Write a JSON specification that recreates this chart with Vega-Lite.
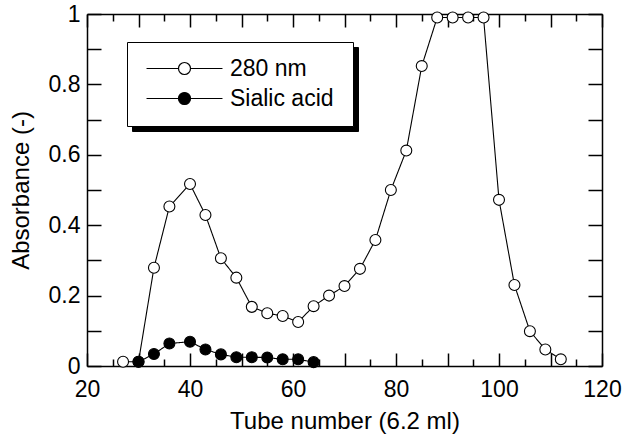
{
  "$schema": "https://vega.github.io/schema/vega-lite/v6.json",
  "width": 515,
  "height": 352,
  "autosize": "none",
  "padding": {"left": 87, "top": 14, "right": 20, "bottom": 72},
  "background": "white",
  "config": {
    "view": {"stroke": null},
    "font": "Liberation Sans",
    "axis": {
      "grid": false,
      "domainColor": "black",
      "domainWidth": 1.5,
      "tickColor": "black",
      "tickWidth": 1.5,
      "labelColor": "black",
      "labelFont": "Liberation Sans",
      "labelFontSize": 23,
      "titleFont": "Liberation Sans",
      "titleFontSize": 24,
      "titleFontWeight": "normal",
      "titleColor": "black"
    }
  },
  "data": {
    "values": [
      {"tube": 27, "absorbance": 0.012, "series": "280 nm"},
      {"tube": 30, "absorbance": 0.012, "series": "280 nm"},
      {"tube": 33, "absorbance": 0.279, "series": "280 nm"},
      {"tube": 36, "absorbance": 0.453, "series": "280 nm"},
      {"tube": 40, "absorbance": 0.517, "series": "280 nm"},
      {"tube": 43, "absorbance": 0.429, "series": "280 nm"},
      {"tube": 46, "absorbance": 0.306, "series": "280 nm"},
      {"tube": 49, "absorbance": 0.251, "series": "280 nm"},
      {"tube": 52, "absorbance": 0.168, "series": "280 nm"},
      {"tube": 55, "absorbance": 0.150, "series": "280 nm"},
      {"tube": 58, "absorbance": 0.142, "series": "280 nm"},
      {"tube": 61, "absorbance": 0.125, "series": "280 nm"},
      {"tube": 64, "absorbance": 0.170, "series": "280 nm"},
      {"tube": 67, "absorbance": 0.200, "series": "280 nm"},
      {"tube": 70, "absorbance": 0.227, "series": "280 nm"},
      {"tube": 73, "absorbance": 0.276, "series": "280 nm"},
      {"tube": 76, "absorbance": 0.358, "series": "280 nm"},
      {"tube": 79, "absorbance": 0.500, "series": "280 nm"},
      {"tube": 82, "absorbance": 0.612, "series": "280 nm"},
      {"tube": 85, "absorbance": 0.852, "series": "280 nm"},
      {"tube": 88, "absorbance": 0.99, "series": "280 nm"},
      {"tube": 91, "absorbance": 0.99, "series": "280 nm"},
      {"tube": 94, "absorbance": 0.99, "series": "280 nm"},
      {"tube": 97, "absorbance": 0.99, "series": "280 nm"},
      {"tube": 100, "absorbance": 0.472, "series": "280 nm"},
      {"tube": 103, "absorbance": 0.230, "series": "280 nm"},
      {"tube": 106, "absorbance": 0.099, "series": "280 nm"},
      {"tube": 109, "absorbance": 0.047, "series": "280 nm"},
      {"tube": 112, "absorbance": 0.019, "series": "280 nm"},
      {"tube": 30, "absorbance": 0.012, "series": "Sialic acid"},
      {"tube": 33, "absorbance": 0.034, "series": "Sialic acid"},
      {"tube": 36, "absorbance": 0.064, "series": "Sialic acid"},
      {"tube": 40, "absorbance": 0.069, "series": "Sialic acid"},
      {"tube": 43, "absorbance": 0.047, "series": "Sialic acid"},
      {"tube": 46, "absorbance": 0.033, "series": "Sialic acid"},
      {"tube": 49, "absorbance": 0.025, "series": "Sialic acid"},
      {"tube": 52, "absorbance": 0.025, "series": "Sialic acid"},
      {"tube": 55, "absorbance": 0.024, "series": "Sialic acid"},
      {"tube": 58, "absorbance": 0.019, "series": "Sialic acid"},
      {"tube": 61, "absorbance": 0.019, "series": "Sialic acid"},
      {"tube": 64, "absorbance": 0.011, "series": "Sialic acid"}
    ]
  },
  "resolve": {"axis": {"x": "independent", "y": "independent"}},
  "layer": [
    {
      "mark": {"type": "line", "color": "black", "strokeWidth": 1.1},
      "encoding": {
        "x": {
          "field": "tube", "type": "quantitative",
          "scale": {"domain": [20, 120], "nice": false, "zero": false},
          "axis": {
            "orient": "bottom",
            "title": "Tube number (6.2 ml)",
            "values": [20,25,30,35,40,45,50,55,60,65,70,75,80,85,90,95,100,105,110,115,120],
            "tickSize": {"condition": {"test": "datum.value % 10 === 0", "value": -13}, "value": -7},
            "labelPadding": 25,
            "labelExpr": "datum.value % 20 === 0 ? datum.label : ''",
            "labelFlush": false,
            "titlePadding": 8
          }
        },
        "y": {
          "field": "absorbance", "type": "quantitative",
          "scale": {"domain": [0, 1], "nice": false},
          "axis": {
            "orient": "left",
            "title": "Absorbance (-)",
            "values": [0,0.1,0.2,0.3,0.4,0.5,0.6,0.7,0.8,0.9,1],
            "tickSize": -14,
            "labelPadding": 21,
            "labelExpr": "round(datum.value*10) % 2 === 0 ? format(datum.value, '~g') : ''",
            "labelFlush": false,
            "titlePadding": 15
          }
        },
        "strokeDash": {
          "field": "series", "type": "nominal",
          "scale": {"domain": ["280 nm", "Sialic acid"], "range": [[1, 0], [1, 0]]},
          "legend": {
            "orient": "none",
            "legendX": 45,
            "legendY": 33,
            "title": " ",
            "titleOrient": "right",
            "titlePadding": 4,
            "titleFontSize": 10,
            "titleColor": "black",
            "fillColor": "black",
            "strokeColor": "black",
            "padding": 15,
            "labelColor": "black",
            "labelOpacity": 0,
            "labelFont": "Liberation Sans",
            "labelFontSize": 23,
            "labelOffset": 34,
            "symbolOffset": 31,
            "symbolType": "M-6.33,0H-1M1,0H6.33M-1,0A1,1,0,1,0,1,0A1,1,0,1,0,-1,0Z",
            "symbolSize": 144,
            "symbolStrokeColor": "black",
            "symbolFillColor": "black",
            "symbolStrokeWidth": 1.2,
            "rowPadding": 6,
            "encoding": {"legend": {"update": {"strokeWidth": {"value": 2}}}}
          }
        }
      }
    },
    {
      "mark": {"type": "point", "shape": "circle", "filled": true, "stroke": "black", "strokeWidth": 1.1, "size": 120, "opacity": 1},
      "encoding": {
        "x": {
          "field": "tube", "type": "quantitative",
          "scale": {"domain": [20, 120], "nice": false, "zero": false},
          "axis": {
            "orient": "top",
            "title": null,
            "labels": false,
            "values": [20,25,30,35,40,45,50,55,60,65,70,75,80,85,90,95,100,105,110,115,120],
            "tickSize": {"condition": {"test": "datum.value % 10 === 0", "value": -13}, "value": -7}
          }
        },
        "y": {
          "field": "absorbance", "type": "quantitative",
          "scale": {"domain": [0, 1], "nice": false},
          "axis": {
            "orient": "right",
            "title": null,
            "labels": false,
            "values": [0,0.1,0.2,0.3,0.4,0.5,0.6,0.7,0.8,0.9,1],
            "tickSize": -14
          }
        },
        "fill": {
          "field": "series", "type": "nominal",
          "scale": {"range": ["white", "black"]},
          "legend": {
            "orient": "none",
            "legendX": 40,
            "legendY": 28,
            "title": " ",
            "titleOrient": "right",
            "titlePadding": 4,
            "titleFontSize": 10,
            "titleColor": "black",
            "fillColor": "white",
            "strokeColor": "black",
            "padding": 15,
            "labelColor": "black",
            "labelFont": "Liberation Sans",
            "labelFontSize": 23,
            "labelOffset": 34,
            "symbolOffset": 31,
            "symbolType": "M-6.33,0H-1M1,0H6.33M-1,0A1,1,0,1,0,1,0A1,1,0,1,0,-1,0Z",
            "symbolSize": 144,
            "symbolStrokeColor": "black",
            "symbolStrokeWidth": 1.2,
            "rowPadding": 6,
            "encoding": {"legend": {"update": {"strokeWidth": {"value": 2}}}}
          }
        }
      }
    }
  ]
}
